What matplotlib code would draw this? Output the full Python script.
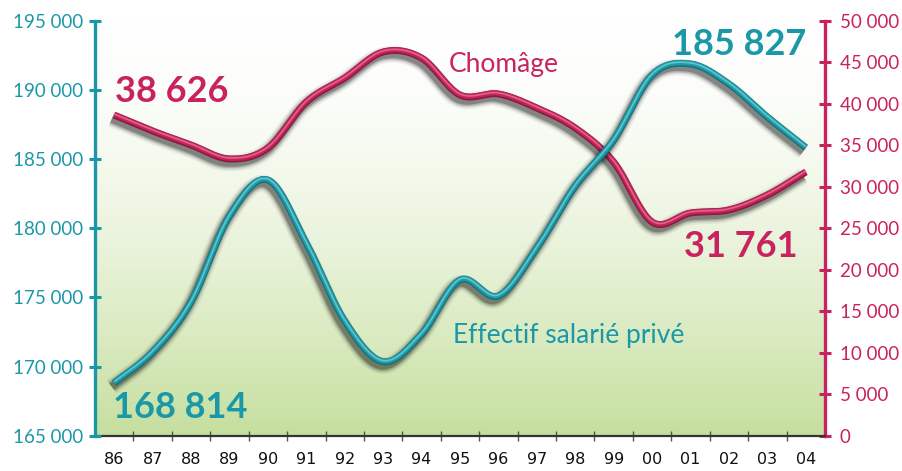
import numpy as np
import matplotlib
matplotlib.use('Agg')
import matplotlib.pyplot as plt
import matplotlib.patheffects as pe
from matplotlib.colors import to_rgb

# ---------------- data ----------------
years = ['86', '87', '88', '89', '90', '91', '92', '93', '94', '95',
         '96', '97', '98', '99', '00', '01', '02', '03', '04']
effectif = [168814, 171050, 174665, 180880, 183480, 178930, 173290, 170350,
            172350, 176255, 175100, 178570, 183050, 186375, 191075, 191870,
            190425, 188040, 185827]
chomage = [38626, 36710, 35020, 33340, 34660, 40200, 43100, 46230, 45500,
           41050, 41170, 39480, 37070, 32970, 25740, 26830, 27200, 29000,
           31761]
left_ticks = [165000, 170000, 175000, 180000, 185000, 190000, 195000]
right_ticks = [0, 5000, 10000, 15000, 20000, 25000, 30000, 35000, 40000,
               45000, 50000]
label_first_eff = '168 814'
label_last_eff = '185 827'
label_first_cho = '38 626'
label_last_cho = '31 761'
name_eff = 'Effectif salarié privé'
name_cho = 'Chomâge'

# ---------------- style ----------------
TEAL = '#1b98a8'
CRIM = '#c8235f'
MAIN_FONT = ['Lato', 'DejaVu Sans']
NARROW_FONT = ['Liberation Sans Narrow', 'DejaVu Sans']


def fmt(v):
    return f'{v:,}'.replace(',', ' ')


def smooth(y, n=24):
    y = np.asarray(y, float)
    x = np.arange(len(y), dtype=float)
    m = np.zeros_like(y)
    m[1:-1] = (y[2:] - y[:-2]) / 2.0
    m[0] = y[1] - y[0]
    m[-1] = y[-1] - y[-2]
    xs, ys = [], []
    t = np.linspace(0, 1, n, endpoint=False)
    h00 = 2 * t**3 - 3 * t**2 + 1
    h10 = t**3 - 2 * t**2 + t
    h01 = -2 * t**3 + 3 * t**2
    h11 = t**3 - t**2
    for i in range(len(y) - 1):
        xs.append(x[i] + t)
        ys.append(h00 * y[i] + h10 * m[i] + h01 * y[i + 1] + h11 * m[i + 1])
    xs.append([x[-1]])
    ys.append([y[-1]])
    return np.concatenate(xs), np.concatenate(ys)


def tube(ax, y, base, dark, light, lw=5.0):
    xs, ys = smooth(y)
    off = (-1.8, -2.8)
    ax.plot(xs, ys, color=base, lw=lw, solid_capstyle='butt',
            solid_joinstyle='round', zorder=3,
            path_effects=[
                pe.SimpleLineShadow(offset=off, shadow_color='k', alpha=0.06, linewidth=lw + 7),
                pe.SimpleLineShadow(offset=off, shadow_color='k', alpha=0.10, linewidth=lw + 4.5),
                pe.SimpleLineShadow(offset=off, shadow_color='k', alpha=0.16, linewidth=lw + 2.5),
                pe.SimpleLineShadow(offset=off, shadow_color='k', alpha=0.25, linewidth=lw + 0.5),
                pe.Stroke(linewidth=lw, foreground=dark),
                pe.Stroke(offset=(0, 0.5), linewidth=lw * 0.72, foreground=base),
                pe.Stroke(offset=(0, 0.8), linewidth=lw * 0.25, foreground=light),
            ])


fig = plt.figure(figsize=(9.02, 4.71), dpi=100)
fig.patch.set_facecolor('white')

L, R, B, T = 95 / 902, 825 / 902, (471 - 435.7) / 471, (471 - 20.7) / 471
ax = fig.add_axes([L, B, R - L, T - B])      # chomage (right axis)
ax2 = ax.twinx()                              # effectif (left axis)

# background gradient
h = 256
f = np.linspace(1, 0, h)[:, None]               # top -> bottom
amt = (1 - f) ** 1.6
white = np.array([1.0, 1.0, 1.0])
green = np.array(to_rgb('#c5df9e'))
grad = white[None, None, :] * (1 - amt[..., None]) + green[None, None, :] * amt[..., None]
grad = np.repeat(grad, 2, axis=1)
ax.imshow(grad, extent=[0, 1, 0, 1], transform=ax.transAxes, aspect='auto',
          zorder=0, interpolation='bilinear')

x = np.arange(len(years))
tube(ax, chomage, '#c2245a', '#8e1842', '#e0628b')
tube(ax2, effectif, '#1f9aa6', '#117480', '#5fc3cc')

ax.set_xlim(-0.5, len(years) - 0.5)
ax.set_ylim(right_ticks[0], right_ticks[-1])
ax2.set_ylim(left_ticks[0], left_ticks[-1])

# x axis
ax.set_xticks(x)
ax.set_xticklabels(years, family=NARROW_FONT, fontsize=11.5, color='#111111')
ax.tick_params(axis='x', which='major', length=0, pad=12)
ax.set_xticks(np.arange(0.5, len(years) - 1, 1.0), minor=True)
ax.tick_params(axis='x', which='minor', direction='inout', length=7,
               width=1.0, color='#555555')

# right axis (chomage)
ax.yaxis.tick_right()
ax.set_yticks(right_ticks)
ax.set_yticklabels([fmt(v) for v in right_ticks], family=MAIN_FONT,
                   fontsize=13.5, color=CRIM)
ax.tick_params(axis='y', direction='inout', length=9, width=2.2,
               color=CRIM, pad=6)

# left axis (effectif)
ax2.yaxis.tick_left()
ax2.set_yticks(left_ticks)
ax2.set_yticklabels([fmt(v) for v in left_ticks], family=MAIN_FONT,
                    fontsize=13.5, color=TEAL)
ax2.tick_params(axis='y', direction='inout', length=9, width=2.2,
                color=TEAL, pad=4)

for s in ['top', 'left']:
    ax.spines[s].set_visible(False)
ax.spines['right'].set_color(CRIM)
ax.spines['right'].set_linewidth(2.4)
ax.spines['bottom'].set_color('#333333')
ax.spines['bottom'].set_linewidth(1.6)
for s in ['top', 'right', 'bottom']:
    ax2.spines[s].set_visible(False)
ax2.spines['left'].set_color(TEAL)
ax2.spines['left'].set_linewidth(2.4)

# annotations
ax.text(0.027, 0.805, label_first_cho, transform=ax.transAxes, ha='left',
        va='baseline', fontsize=26, fontweight='bold', color=CRIM,
        family=MAIN_FONT, zorder=5)
ax.text(0.963, 0.431, label_last_cho, transform=ax.transAxes, ha='right',
        va='baseline', fontsize=26, fontweight='bold', color=CRIM,
        family=MAIN_FONT, zorder=5)
ax.text(0.485, 0.877, name_cho, transform=ax.transAxes, ha='left',
        va='baseline', fontsize=19, color=CRIM, family=MAIN_FONT, zorder=5)
ax2.text(0.025, 0.043, label_first_eff, transform=ax2.transAxes, ha='left',
         va='baseline', fontsize=26, fontweight='bold', color=TEAL,
         family=MAIN_FONT, zorder=5)
ax2.text(0.975, 0.917, label_last_eff, transform=ax2.transAxes, ha='right',
         va='baseline', fontsize=26, fontweight='bold', color=TEAL,
         family=MAIN_FONT, zorder=5)
ax2.text(0.49, 0.2234, name_eff, transform=ax2.transAxes, ha='left',
         va='baseline', fontsize=19, color=TEAL, family=MAIN_FONT, zorder=5)

fig.savefig('out.png', dpi=100)
